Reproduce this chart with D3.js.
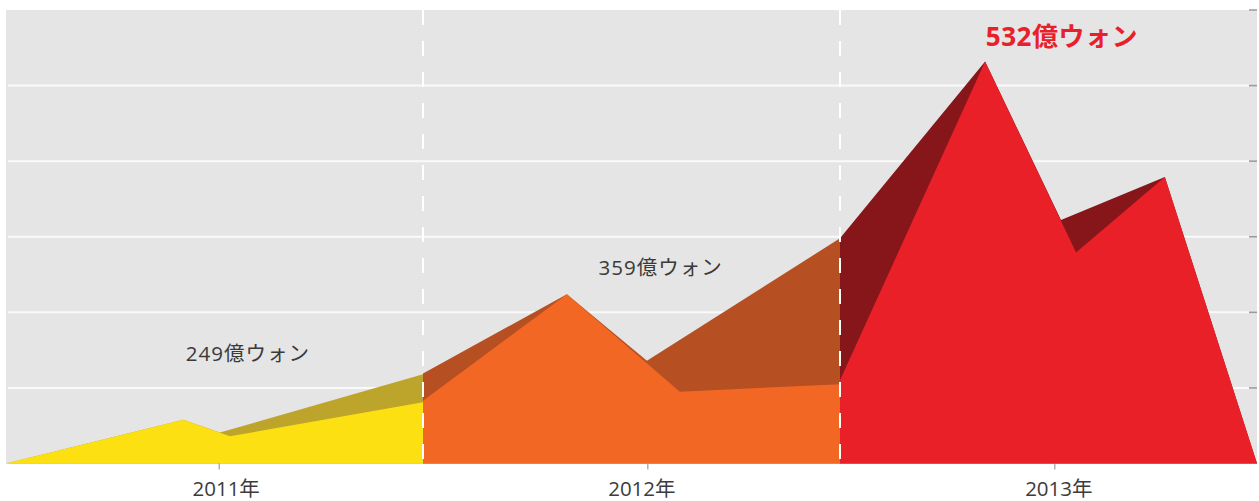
<!DOCTYPE html>
<html>
<head>
<meta charset="utf-8">
<script src="https://cdn.jsdelivr.net/npm/d3@7"></script>
<style>
  html, body { margin: 0; padding: 0; background: #ffffff; }
  svg { display: block; }
  text { font-family: "Open Sans", "Noto Sans CJK JP", sans-serif; }
</style>
</head>
<body>
<svg id="chart" width="1259" height="501"></svg>
<script>
// ---- Data ----
const years = ["2011年", "2012年", "2013年"];
const yearTickPos = [0.51, 1.538, 2.514];       // position on the x axis (years from start)
const yearBoundaries = [1, 2];
const totals = ["249億ウォン", "359億ウォン", "532億ウォン"];
const totalLabelPos = [0.58, 1.57, 2.532];
const totalLabelValue = [135, 250, 553];
const gridValues = [100, 200, 300, 400, 500];
const rightTickValues = [100, 200, 300, 400, 500, 600];

const back2011X = [0, 0.425, 0.513, 1.0];
const back2011V = [0, 58, 41, 118];
const front2011X = [0, 0.425, 0.537, 1.0];
const front2011V = [0, 58, 36, 81];

const back2012X = [1.0, 1.345, 1.537, 2.0];
const back2012V = [119, 224, 136, 298];
const front2012X = [1.0, 1.345, 1.616, 2.0];
const front2012V = [83, 224, 95, 105];

const back2013X = [2.0, 2.348, 2.530, 2.779, 3.0];
const back2013V = [298, 532, 322, 379, 0];
const front2013X = [2.0, 2.348, 2.566, 2.779, 3.0];
const front2013V = [110, 532, 279, 379, 0];

const backColors = ["#bda52c", "#b64f22", "#87161a"];
const frontColors = ["#fde012", "#f26724", "#ea2029"];

// ---- Layout ----
const svg = d3.select("#chart");
const x = d3.scaleLinear().domain([0, 3]).range([6, 1257]);
const y = d3.scaleLinear().domain([0, 600]).range([463.5, 10]);

svg.append("rect")
  .attr("x", x(0)).attr("y", y(600))
  .attr("width", x(3) - x(0)).attr("height", y(0) - y(600))
  .attr("fill", "#e4e5e4");

// gridlines
svg.append("g").selectAll("line").data(gridValues).join("line")
  .attr("x1", x(0) + 2).attr("x2", x(3) - 8)
  .attr("y1", d => y(d)).attr("y2", d => y(d))
  .attr("stroke", "#fafafa").attr("stroke-width", 2);

// right tick marks
svg.append("g").selectAll("line").data(rightTickValues).join("line")
  .attr("x1", x(3) - 8).attr("x2", x(3))
  .attr("y1", d => y(d)).attr("y2", d => y(d))
  .attr("stroke", "#9a9a9a").attr("stroke-width", 1.5);

const area = d3.area()
  .x(d => x(d[0]))
  .y0(y(0))
  .y1(d => y(d[1]));

const series = [
  [back2011X, back2011V, front2011X, front2011V],
  [back2012X, back2012V, front2012X, front2012V],
  [back2013X, back2013V, front2013X, front2013V]
];

series.forEach((s, i) => {
  const back = s[0].map((v, j) => [v, s[1][j]]);
  const front = s[2].map((v, j) => [v, s[3][j]]);
  svg.append("path").datum(back).attr("d", area).attr("fill", backColors[i]);
  svg.append("path").datum(front).attr("d", area).attr("fill", frontColors[i]);
});

// dashed year boundaries
svg.append("g").selectAll("line").data(yearBoundaries).join("line")
  .attr("x1", d => x(d)).attr("x2", d => x(d))
  .attr("y1", y(600)).attr("y2", y(0))
  .attr("stroke", "#ffffff").attr("stroke-width", 2)
  .attr("stroke-dasharray", "15,16");

// bottom axis
const labelShift = [7, -6, 4];
const xAxis = d3.axisBottom(x)
  .tickValues(yearTickPos)
  .tickFormat((d, i) => years[i])
  .tickSize(6)
  .tickSizeOuter(0);
const gx = svg.append("g").attr("transform", `translate(0,${y(0)})`).call(xAxis);
gx.select(".domain").remove();
gx.selectAll(".tick line").attr("stroke", "#8a8a8a").attr("stroke-width", 1);
gx.selectAll(".tick text")
  .attr("y", 17.5)
  .attr("dx", (d, i) => labelShift[i])
  .attr("font-size", 20.5)
  .attr("fill", "#3c3c3c")
  .style("font-family", "'Open Sans','Noto Sans CJK JP',sans-serif");

// total labels
svg.append("g").selectAll("text").data(totals).join("text")
  .attr("x", (d, i) => x(totalLabelPos[i]))
  .attr("y", (d, i) => y(totalLabelValue[i]))
  .attr("text-anchor", "middle")
  .attr("font-size", (d, i) => i === 2 ? 26 : 20.5)
  .attr("letter-spacing", (d, i) => i === 2 ? 0.5 : 1)
  .attr("font-weight", (d, i) => i === 2 ? 700 : 400)
  .attr("fill", (d, i) => i === 2 ? "#e8202a" : "#3a3a3a")
  .text(d => d);
</script>
</body>
</html>
